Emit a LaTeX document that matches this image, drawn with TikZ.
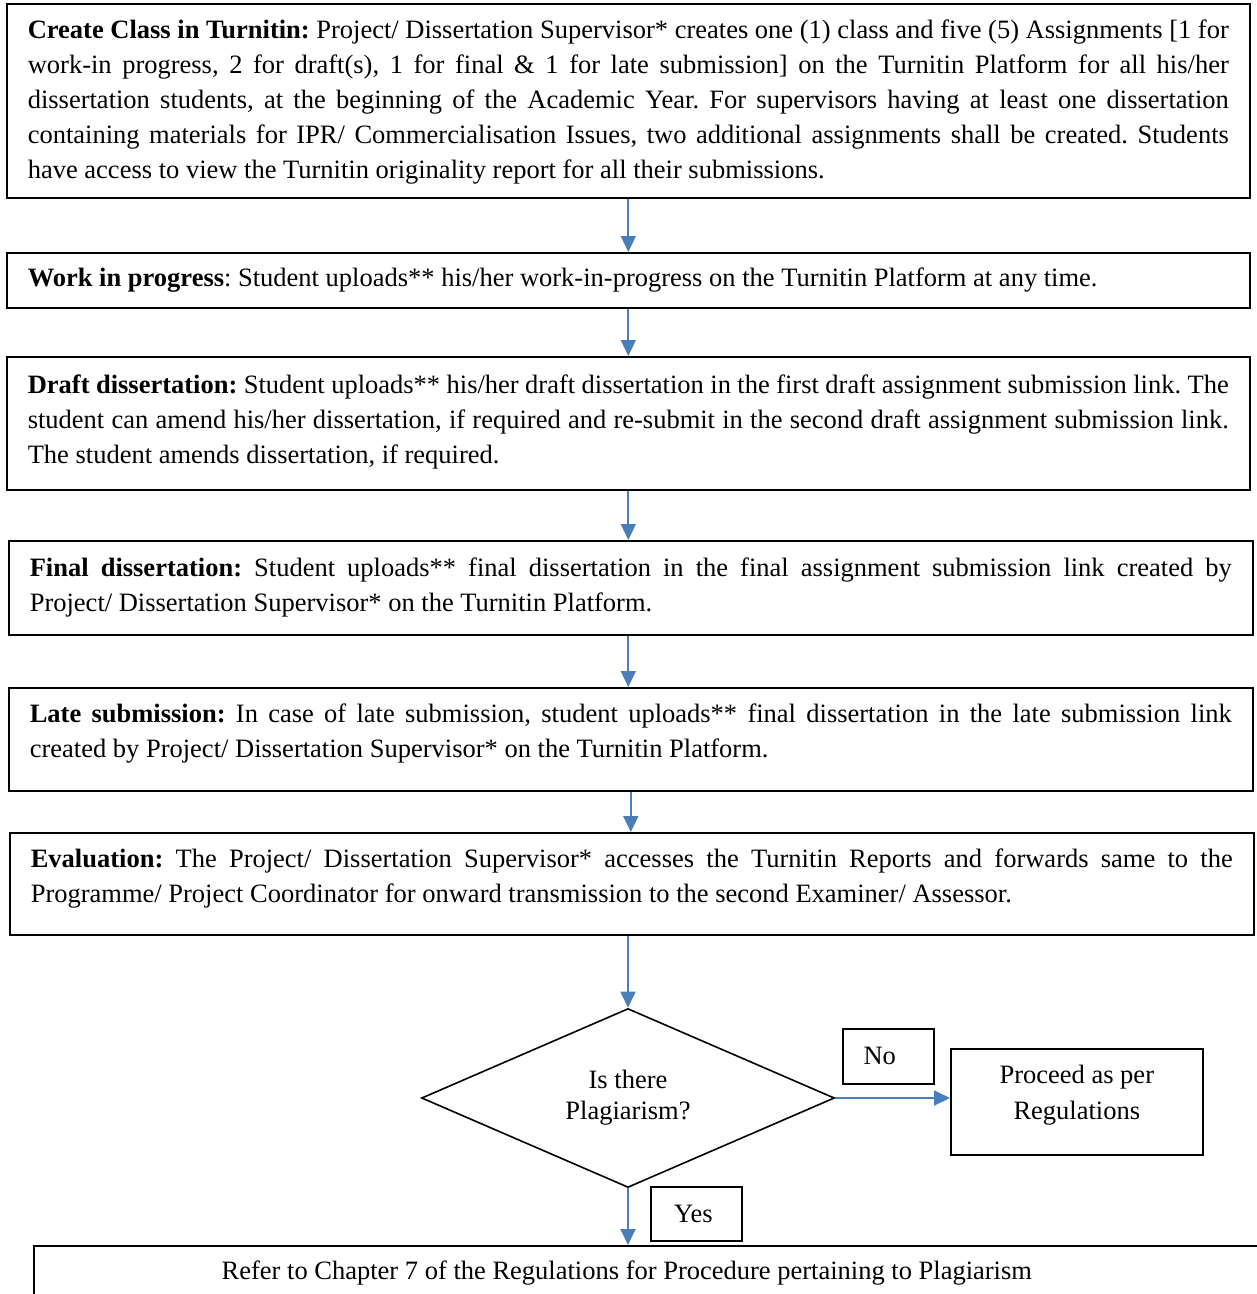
\documentclass[tikz,border=0pt]{standalone}
\usepackage{fontspec}
\setmainfont{Liberation Serif}
\usetikzlibrary{shapes.geometric,arrows.meta,calc}
\definecolor{arrowblue}{HTML}{4A7EBB}
\hyphenpenalty=10000
\exhyphenpenalty=10000
\tolerance=9999
\emergencystretch=30pt
\frenchspacing
\newcommand{\lowstrut}[1]{\rule[-#1]{0pt}{#1}}
\tikzset{
  base/.style={draw=black, line width=1.6pt, font=\frenchspacing\fontsize{26.5pt}{35pt}\selectfont},
  flowbox/.style={base, anchor=north west, inner xsep=21pt, inner ysep=0pt, align=justify},
  smallbox/.style={base, anchor=north west, inner sep=0pt, align=center},
  decision/.style={base, diamond, aspect=2.3, inner sep=0pt, align=center,
    minimum width=413pt, minimum height=179pt, font=\fontsize{26.5pt}{31pt}\selectfont},
  arr/.style={draw=arrowblue, line width=1.8pt, -{Triangle[length=16pt,width=15pt]}}
}
\begin{document}
\begin{tikzpicture}[x=1pt,y=-1pt]
\useasboundingbox (0,0) rectangle (1257,1294);

\node[flowbox, minimum width=1243pt, text width=1201pt, minimum height=194pt] (b1) at (6,3)
{\rule{0pt}{22pt}\textbf{Create Class in Turnitin:} Project/ Dissertation Supervisor* creates one (1) class and five (5) Assignments [1 for\linebreak
work-in progress, 2 for draft(s), 1 for final \& 1 for late submission] on the Turnitin Platform for all his/her\linebreak
dissertation students, at the beginning of the Academic Year. For supervisors having at least one dissertation\linebreak
containing materials for IPR/ Commercialisation Issues, two additional assignments shall be created. Students\linebreak
have access to view the Turnitin originality report for all their submissions.};

\node[flowbox, minimum width=1243pt, text width=1201pt, minimum height=55pt] (b2) at (6,252)
{\textbf{Work in progress}: Student uploads** his/her work-in-progress on the Turnitin Platform at any time.};

\node[flowbox, minimum width=1243pt, text width=1201pt, minimum height=133pt] (b3) at (6,356)
{\textbf{Draft dissertation:} Student uploads** his/her draft dissertation in the first draft assignment submission link. The\linebreak
student can amend his/her dissertation, if required and re-submit in the second draft assignment submission link.\linebreak
The student amends dissertation, if required.\lowstrut{8pt}};

\node[flowbox, minimum width=1244pt, text width=1202pt, minimum height=94pt] (b4) at (8,540)
{\textbf{Final dissertation:} Student uploads** final dissertation in the final assignment submission link created by\linebreak
Project/ Dissertation Supervisor* on the Turnitin Platform.};

\node[flowbox, minimum width=1244pt, text width=1202pt, minimum height=103pt] (b5) at (8,687)
{\textbf{Late submission:} In case of late submission, student uploads** final dissertation in the late submission link\linebreak
created by Project/ Dissertation Supervisor* on the Turnitin Platform.\lowstrut{18pt}};

\node[flowbox, minimum width=1244pt, text width=1202pt, minimum height=102pt] (b6) at (9,832)
{\textbf{Evaluation:} The Project/ Dissertation Supervisor* accesses the Turnitin Reports and forwards same to the\linebreak
Programme/ Project Coordinator for onward transmission to the second Examiner/ Assessor.\lowstrut{16pt}};

\node[decision] (dia) at (628,1098) {Is there\\Plagiarism?};

\node[smallbox, minimum width=91pt, minimum height=55pt] (no) at (842,1028) {No\hspace{17pt}};

\node[smallbox, minimum width=252pt, minimum height=106pt, font=\fontsize{26.5pt}{36pt}\selectfont] (proc) at (950,1048) {Proceed as per\\Regulations\lowstrut{20pt}};

\node[smallbox, minimum width=91pt, minimum height=54pt] (yes) at (650,1186) {Yes\hspace{6pt}};

\node[smallbox, minimum width=1267pt, minimum height=54pt] (bot) at (33,1245)
{Refer to Chapter 7 of the Regulations for Procedure pertaining to Plagiarism\hspace{81pt}};

\draw[arr] (b1.south) -- (b2.north);
\draw[arr] (b2.south) -- (b3.north);
\draw[arr] (b3.south) -- (b3.south |- b4.north);
\draw[arr] (b3.south |- b4.south) -- (b3.south |- b5.north);
\draw[arr] (b5.south) -- (b5.south |- b6.north);
\draw[arr] (b6.south -| dia.north) -- (dia.north);
\draw[arr] (dia.east) -- (dia.east -| proc.west);
\draw[arr] (dia.south) -- (dia.south |- bot.north);
\end{tikzpicture}
\end{document}
